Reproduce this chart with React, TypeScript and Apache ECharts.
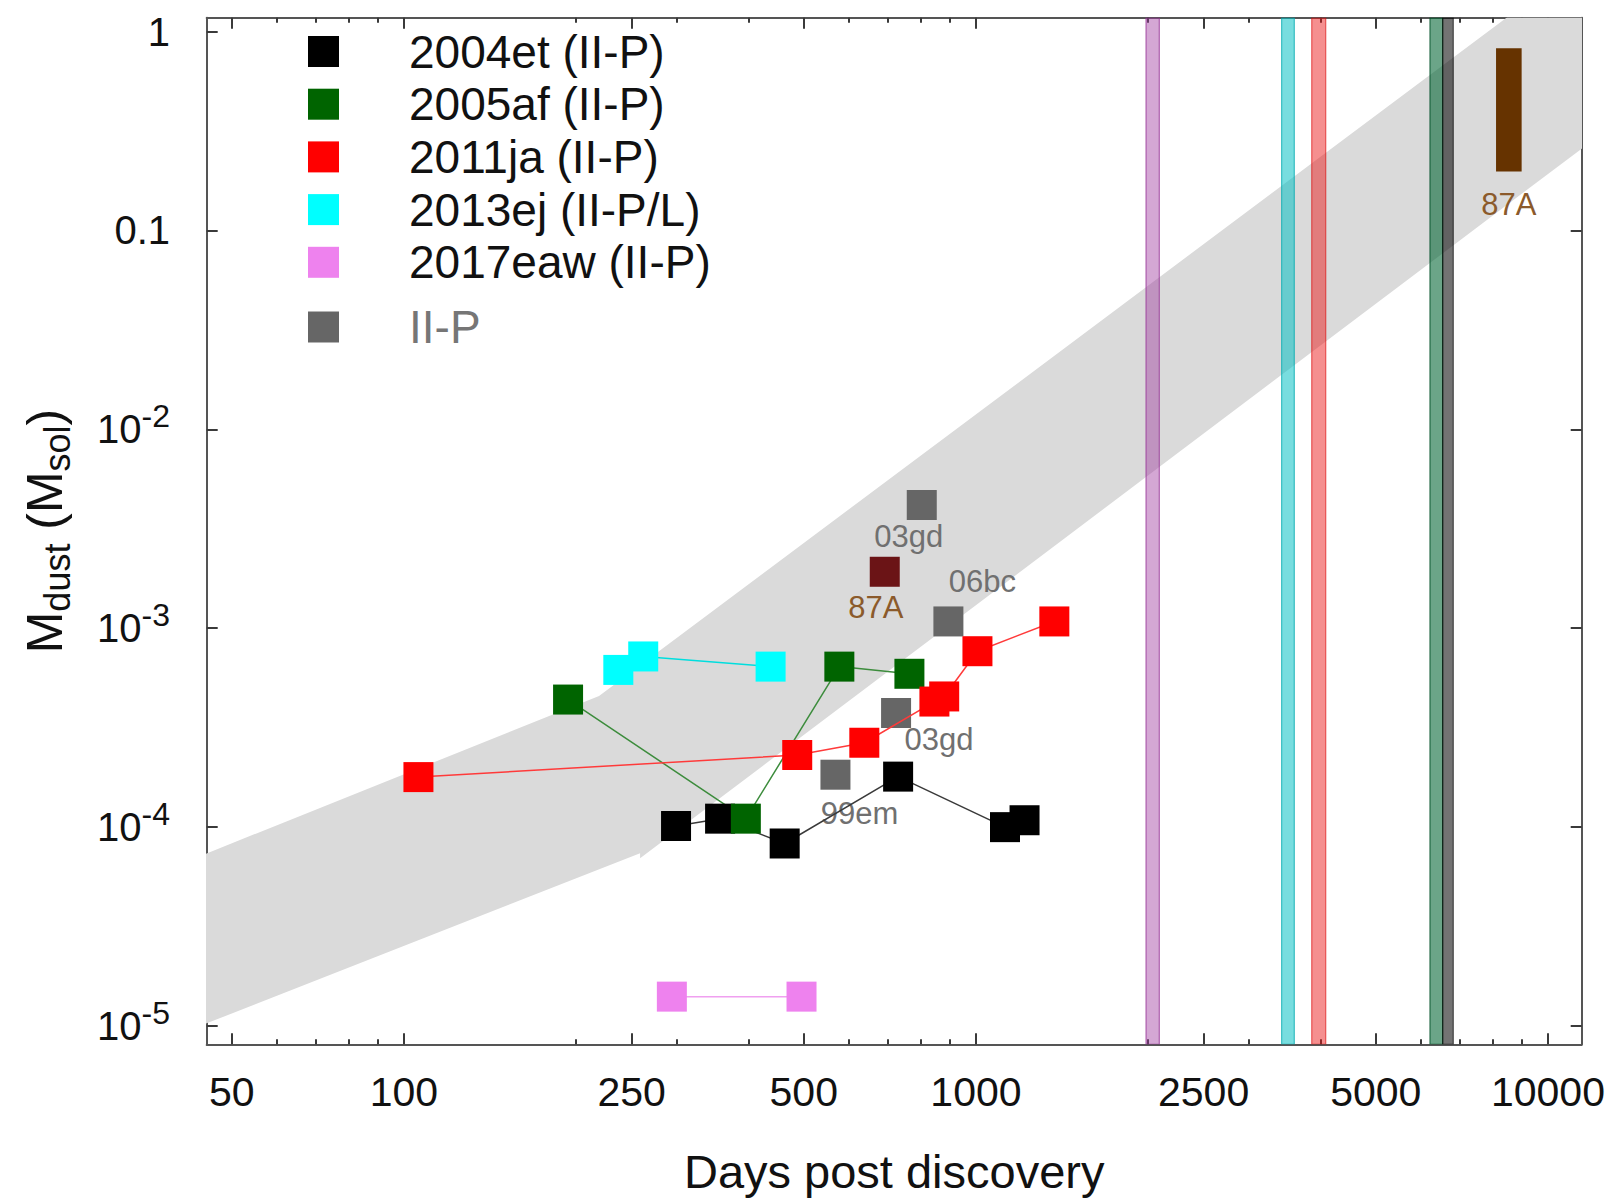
import React, { useEffect, useRef } from 'react';
import * as echarts from 'echarts';

// ---------- data ----------
const X_MIN = 45.2;
const X_MAX = 11455;
const Y_MIN = 8.06e-6;
const Y_MAX = 1.176;

const xMajorTicks = [50, 100, 250, 500, 1000, 2500, 5000, 10000];
const xMinorTicks = [60, 70, 80, 90, 200, 300, 400, 600, 700, 800, 900, 2000, 3000, 4000, 6000, 7000, 8000, 9000];
const yTicks = [1e-5, 1e-4, 1e-3, 1e-2, 0.1, 1];

const sn2004et = [[299, 1.01e-4], [357, 1.10e-4], [463, 8.25e-5], [731, 1.79e-4], [1124, 9.97e-5], [1216, 1.08e-4]];
const sn2005af = [[193.6, 4.37e-4], [396, 1.10e-4], [577, 6.40e-4], [765, 5.89e-4]];
const sn2011ja = [[106, 1.78e-4], [487, 2.30e-4], [638, 2.65e-4], [846, 4.27e-4], [880, 4.53e-4], [1006, 7.65e-4], [1371, 1.08e-3]];
const sn2013ej = [[237, 6.16e-4], [262, 7.2e-4], [437.5, 6.40e-4]];
const sn2017eaw = [[294, 1.40e-5], [495.5, 1.40e-5]];
const typeIIP = [[804, 4.16e-3], [895, 1.08e-3], [725, 3.74e-4], [568, 1.83e-4]];
const typeIIPNames = ['03gd', '06bc', '03gd', '99em'];
const sn87AEarly = [[692.7, 1.92e-3]];
const sn87ALate = [[8114, 8995, 0.198, 0.825]]; // [day from, day to, mass low, mass high]
const lateEpochBands = [[1983, 2092], [3423, 3602], [3864, 4088], [6219, 6545], [6545, 6831]];

// grey model band, outline as [day, mass]
const bandLower = [[40, 8.95e-6], [258.7, 7.37e-5], [258.7, 6.95e-5], [12500, 0.312]];
const bandUpper = [[40, 6.39e-5], [219.3, 4.55e-4], [12500, 2.72]];

// ---------- styles ----------
const FONT = "'Liberation Sans', Arial, Helvetica, sans-serif";
const AXIS_COLOR = '#555555';
const TICK_COLOR = '#3a3a3a';
const TEXT_COLOR = '#111111';

const lateBandStyles = [
  { fill: 'rgba(160,60,160,0.45)', stroke: 'rgba(150,50,150,0.7)' },
  { fill: 'rgba(0,190,195,0.53)', stroke: 'rgba(0,170,175,0.7)' },
  { fill: 'rgba(235,20,20,0.48)', stroke: 'rgba(220,10,10,0.6)' },
  { fill: 'rgba(0,100,50,0.58)', stroke: 'rgba(0,80,40,0.75)' },
  { fill: 'rgba(0,0,0,0.55)', stroke: 'rgba(0,0,0,0.6)' },
];
const iipLabelOffsets = [[-13, 31], [34, -40], [43, 27], [24, 39]];

function buildOption() {
  const xBase = {
    type: 'log',
    logBase: 10,
    min: X_MIN,
    max: X_MAX,
    gridIndex: 0,
    splitLine: { show: false },
    minorTick: { show: false },
    minorSplitLine: { show: false },
  };
  const yBase = {
    type: 'log',
    logBase: 10,
    min: Y_MIN,
    max: Y_MAX,
    gridIndex: 0,
    splitLine: { show: false },
    minorTick: { show: false },
    minorSplitLine: { show: false },
  };
  const axisLine = { show: true, onZero: false, lineStyle: { color: AXIS_COLOR, width: 2 } };
  const majorTick = (vals: number[]) => ({ show: true, inside: true, length: 11, customValues: vals, lineStyle: { color: TICK_COLOR, width: 2 } });
  const minorTick = (vals: number[]) => ({ show: true, inside: true, length: 5, customValues: vals, lineStyle: { color: TICK_COLOR, width: 2 } });

  const legendText = { fontSize: 46, fontFamily: FONT, color: TEXT_COLOR, lineHeight: 40, padding: [0, 0, 0, 65] };

  const lineSeries = (name: string, data: number[][], color: string, lineColor: string) => ({
    name,
    type: 'line',
    data,
    symbol: 'rect',
    symbolSize: 30,
    itemStyle: { color, opacity: 1 },
    lineStyle: { color: lineColor, width: 1.5 },
    emphasis: { disabled: true },
    z: 5,
  });

  return {
    animation: false,
    backgroundColor: '#ffffff',
    textStyle: { fontFamily: FONT },
    grid: { left: 206.7, top: 17.7, right: 31.3, bottom: 157.7, containLabel: false, outerBoundsMode: 'none' },
    legend: [
      {
        data: ['2004et (II-P)', '2005af (II-P)', '2011ja (II-P)', '2013ej (II-P/L)', '2017eaw (II-P)'],
        orient: 'vertical', left: 308, top: 28.5, padding: 0,
        itemWidth: 31, itemHeight: 31, itemGap: 6.7, icon: 'rect', selectedMode: false,
        itemStyle: { borderWidth: 0 },
        textStyle: legendText,
      },
      {
        data: ['II-P'],
        orient: 'vertical', left: 308, top: 304, padding: 0,
        itemWidth: 31, itemHeight: 31, itemGap: 6.7, icon: 'rect', selectedMode: false,
        itemStyle: { borderWidth: 0 },
        textStyle: { ...legendText, color: '#767676' },
      },
    ],
    xAxis: [
      {
        ...xBase, position: 'bottom', axisLine,
        axisTick: majorTick(xMajorTicks),
        axisLabel: {
          show: true, customValues: xMajorTicks, formatter: (v: number) => String(Math.round(v)),
          fontSize: 41, lineHeight: 40, fontFamily: FONT, color: TEXT_COLOR, margin: 28,
        },
        name: 'Days post discovery', nameLocation: 'middle', nameGap: 104, nameMoveOverlap: false,
        nameTextStyle: { fontSize: 47, lineHeight: 47, fontFamily: FONT, color: TEXT_COLOR },
      },
      { ...xBase, position: 'bottom', axisLine: { show: false }, axisTick: minorTick(xMinorTicks), axisLabel: { show: false } },
      { ...xBase, position: 'top', axisLine, axisTick: majorTick(xMajorTicks), axisLabel: { show: false } },
      { ...xBase, position: 'top', axisLine: { show: false }, axisTick: minorTick(xMinorTicks), axisLabel: { show: false } },
    ],
    yAxis: [
      {
        ...yBase, position: 'left', axisLine,
        axisTick: majorTick(yTicks),
        axisLabel: {
          show: true, customValues: yTicks, margin: 36.7,
          formatter: (v: number) => {
            const e = Math.round(Math.log10(v));
            if (e === 0) return '{n|1}';
            if (e === -1) return '{n|0.1}';
            return `{n|10}{s|${e}}`;
          },
          rich: {
            n: { fontSize: 40, lineHeight: 40, fontFamily: FONT, color: TEXT_COLOR },
            s: { fontSize: 32, lineHeight: 40, fontFamily: FONT, color: TEXT_COLOR, padding: [0, 0, 26, 0] },
          },
        },
        name: '{m|M}{d|dust}{m| (M}{d|sol}{m|)}', nameLocation: 'middle', nameRotate: 90, nameGap: 137, nameMoveOverlap: false,
        nameTextStyle: {
          rich: {
            m: { fontSize: 50, lineHeight: 50, fontFamily: FONT, color: TEXT_COLOR },
            d: { fontSize: 36, lineHeight: 50, fontFamily: FONT, color: TEXT_COLOR, padding: [26, 0, 0, 0] },
          },
        },
      },
      { ...yBase, position: 'right', axisLine, axisTick: majorTick(yTicks), axisLabel: { show: false } },
    ],
    series: [
      {
        type: 'custom', silent: true, clip: true, z: 1,
        data: [[100, 1e-4]],
        encode: { x: 0, y: 1 },
        renderItem: (params: any, api: any) => {
          const pts = [
            ...bandLower.map((p) => api.coord(p)),
            ...bandUpper.slice().reverse().map((p) => api.coord(p)),
          ];
          return { type: 'polygon', shape: { points: pts }, style: { fill: '#dadada' } };
        },
      },
      {
        type: 'custom', silent: true, clip: true, z: 2,
        data: lateEpochBands,
        encode: { x: [0, 1] },
        renderItem: (params: any, api: any) => {
          const cs = params.coordSys;
          const x0 = api.coord([api.value(0), 1e-3])[0];
          const x1 = api.coord([api.value(1), 1e-3])[0];
          const st = lateBandStyles[params.dataIndex];
          return {
            type: 'rect',
            shape: { x: x0, y: cs.y, width: x1 - x0, height: cs.height },
            style: { fill: st.fill, stroke: st.stroke, lineWidth: 1.2 },
          };
        },
      },
      {
        type: 'custom', silent: true, clip: false, z: 3,
        data: sn87ALate,
        encode: { x: [0, 1], y: [2, 3] },
        renderItem: (params: any, api: any) => {
          const p0 = api.coord([api.value(0), api.value(3)]);
          const p1 = api.coord([api.value(1), api.value(2)]);
          return {
            type: 'group',
            children: [
              { type: 'rect', shape: { x: p0[0], y: p0[1], width: p1[0] - p0[0], height: p1[1] - p0[1] }, style: { fill: '#663300' } },
              {
                type: 'text', x: (p0[0] + p1[0]) / 2, y: p1[1] + 33,
                style: { text: '87A', fill: '#8B5A2B', fontSize: 31, fontFamily: FONT, align: 'center', verticalAlign: 'middle' },
              },
            ],
          };
        },
      },
      {
        name: 'II-P', type: 'scatter', symbol: 'rect', symbolSize: 30, z: 4,
        itemStyle: { color: '#666666', opacity: 1 }, emphasis: { disabled: true },
        data: typeIIP.map((p, i) => ({
          value: p,
          label: {
            show: true, formatter: typeIIPNames[i], position: 'inside', offset: iipLabelOffsets[i],
            color: '#707070', fontSize: 31, fontFamily: FONT,
          },
        })),
      },
      {
        name: '87A', type: 'scatter', symbol: 'rect', symbolSize: 30, z: 4,
        itemStyle: { color: '#6b1416', opacity: 1 }, emphasis: { disabled: true },
        data: sn87AEarly.map((p) => ({
          value: p,
          label: { show: true, formatter: '87A', position: 'inside', offset: [-9, 36], color: '#8B5A2B', fontSize: 31, fontFamily: FONT },
        })),
      },
      lineSeries('2004et (II-P)', sn2004et, '#000000', '#3a3a3a'),
      lineSeries('2005af (II-P)', sn2005af, '#006400', '#3c8c3c'),
      lineSeries('2011ja (II-P)', sn2011ja, '#ff0000', '#ff3a3a'),
      lineSeries('2013ej (II-P/L)', sn2013ej, '#00ffff', '#00dede'),
      lineSeries('2017eaw (II-P)', sn2017eaw, '#ee82ee', '#f0a0f0'),
    ],
  };
}

export default function App() {
  const ref = useRef<HTMLDivElement>(null);
  useEffect(() => {
    if (!ref.current) return;
    const chart = echarts.init(ref.current, null, { renderer: 'svg' });
    chart.setOption(buildOption() as any);
    return () => chart.dispose();
  }, []);
  return (
    <div
      ref={ref}
      style={{ position: 'fixed', left: 0, top: 0, width: 1613, height: 1202, background: '#ffffff' }}
    />
  );
}
